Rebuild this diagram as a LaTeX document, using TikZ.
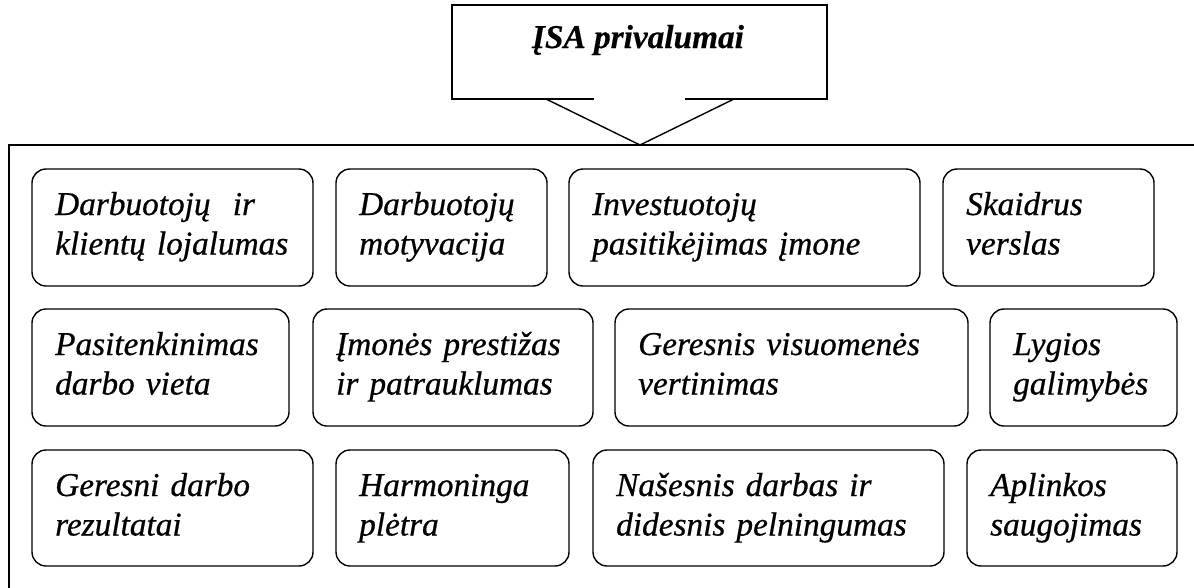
\documentclass[tikz,border=0pt]{standalone}
\usepackage{fontspec}
\setmainfont{Liberation Serif}
\newfontfamily\isait{Liberation Serif Italic}[FakeBold=0.6]
\newfontfamily\isabi{Liberation Serif Bold Italic}[FakeBold=0.4]
\usetikzlibrary{calc}
\tikzset{
  ln/.style={line width=1.4pt, line cap=rect},
  cellbox/.style={draw, line width=1.4pt, rounded corners=14pt, inner sep=0pt, outer sep=0pt, anchor=north west},
  celltext/.style={anchor=base west, inner sep=0pt, text width=330pt, align=left,
    font=\isait\fontsize{33.3}{39.5}\selectfont},
  titletext/.style={anchor=base, inner sep=0pt, font=\isabi\fontsize{33.3}{39.5}\selectfont}
}
% #1 name, #2 left, #3 top, #4 right, #5 bottom, #6 text
\newcommand\isacell[6]{%
  \node[cellbox, minimum width={#4pt-#2pt}, minimum height={#5pt-#3pt}] (#1) at (#2,#3) {};
  \node[celltext] (#1t) at ($(#1.north west)+(23,46)$) {#6};
}
\begin{document}
\begin{tikzpicture}[x=1pt, y=-1pt]
\useasboundingbox (0,0) rectangle (1194,587);
% outer frame (cut by page edge)
\draw[ln] (1210,145) -- (9,145) -- (9,600);
% callout
\coordinate (cbl) at (452,99);
\coordinate (ctl) at (452,5);
\coordinate (ctr) at (827,5);
\coordinate (cbr) at (827,99);
\coordinate (gl) at (593,99);
\coordinate (gr) at (686,99);
\coordinate (tl) at (546,99);
\coordinate (tr) at (734,99);
\coordinate (tip) at (640,145);
\draw[ln, line join=miter] (gl) -- (cbl) -- (ctl) -- (ctr) -- (cbr) -- (gr);
\draw[line width=1.4pt] (tl) -- (tip) -- (tr);
\node[titletext] (title) at (638,48) {Į{}SA privalumai};
% row 1
\isacell{a1}{32}{169}{313}{286}{Darbuotojų\ \ ir\\klientų lojalumas}
\isacell{a2}{336}{169}{547}{286}{Darbuotojų\\motyvacija}
\isacell{a3}{569}{169}{920}{286}{Investuotojų\\pasitikėjimas įmone}
\isacell{a4}{943}{169}{1154}{286}{Skaidrus\\verslas}
% row 2
\isacell{b1}{32}{309}{289}{426}{Pasitenkinimas\\darbo vieta}
\isacell{b2}{313}{309}{593}{426}{Įmonės prestižas\\ir patrauklumas}
\isacell{b3}{615}{309}{968}{426}{Geresnis visuomenės\\vertinimas}
\isacell{b4}{990}{309}{1177}{426}{Lygios\\galimybės}
% row 3
\isacell{c1}{32}{450}{313}{566}{Geresni darbo\\rezultatai}
\isacell{c2}{336}{450}{569}{566}{Harmoninga\\plėtra}
\isacell{c3}{593}{450}{944}{566}{Našesnis darbas ir\\didesnis pelningumas}
\isacell{c4}{967}{450}{1177}{566}{Aplinkos\\saugojimas}
\end{tikzpicture}
\end{document}
